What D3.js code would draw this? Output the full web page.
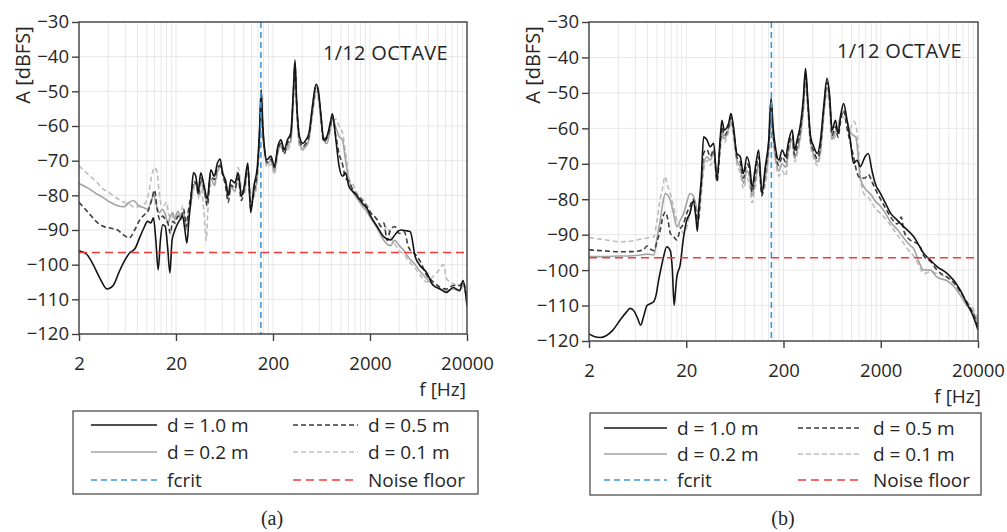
<!DOCTYPE html>
<html>
<head>
<meta charset="utf-8">
<script src="https://cdn.jsdelivr.net/npm/d3@7"></script>
<style>
  html, body { margin: 0; padding: 0; background: #fff; }
  svg { display: block; }
  text { font-family: "Open Sans", "Noto Sans", sans-serif; fill: #262626; }
</style>
</head>
<body>
<svg id="chart" width="1007" height="532"></svg>
<script>
// ---- data -------------------------------------------------------------
const xTicks = [2, 20, 200, 2000, 20000];
const yTicks = [-30, -40, -50, -60, -70, -80, -90, -100, -110, -120];
const fCrit = 150;        // Hz
const noiseFloor = -96.5; // dBFS
const seriesLabels = ["d = 1.0 m", "d = 0.5 m", "d = 0.2 m", "d = 0.1 m"];
const refLabels = ["fcrit", "Noise floor"];

// panel (a): [frequency Hz, level dBFS]
const a_d10 = [[2,-96],[2.4,-97],[2.8,-100],[3.3,-104],[3.9,-107],[4.5,-106],[5.2,-102],[6,-98.5],[6.7,-96.5],[7.5,-95.5],[8.5,-92],[9.3,-89.5],[10.2,-87.5],[11,-88],[11.7,-86.5],[12.4,-93],[13.1,-101.5],[13.8,-93],[14.6,-88.5],[15.5,-89],[16.4,-95],[17.3,-102.4],[18.2,-93],[19.2,-90.5],[20.5,-88.5],[22,-87],[23.4,-86],[24.7,-90],[25.9,-93.8],[27.2,-87],[28.5,-81],[30.3,-73.5],[32,-74.5],[33.8,-79],[36,-73.5],[38.8,-77],[42,-81],[45.7,-72.6],[49.5,-74.5],[53.5,-70.7],[57,-69.5],[60.3,-73.5],[65.3,-76],[69,-80],[73.6,-75.5],[81,-76.4],[87.5,-73.5],[94.5,-80.3],[101,-77.4],[110,-70.7],[118,-85],[127,-77.4],[138,-71.6],[146,-60],[151,-49.5],[157,-60],[163,-66],[173,-69.7],[190,-68.7],[207,-71.6],[224,-66],[241,-64],[261,-66.8],[282,-64],[305,-62],[324,-50],[337,-41],[350,-52.4],[375,-63],[405,-65],[437,-64],[470,-62],[510,-54.3],[555,-48],[585,-49.5],[625,-57],[665,-64],[720,-63],[780,-59],[820,-56.5],[890,-64],[960,-71.6],[1040,-74.5],[1120,-73.5],[1210,-77.4],[1340,-79],[1480,-80.3],[1660,-82.2],[1880,-84],[2030,-86],[2370,-89],[2780,-92],[3250,-92.9],[3700,-91],[4110,-90],[4700,-90.2],[5200,-90.5],[5850,-97.7],[6570,-100.3],[7670,-102.3],[9000,-106],[10520,-107],[12300,-108],[14400,-106.6],[16800,-107.5],[18200,-104.6],[20000,-112]];
const a_d05 = [[2,-82],[2.5,-85],[3,-87.5],[3.6,-89],[4.3,-89.5],[5,-90],[5.8,-91.5],[6.6,-92.3],[7.5,-90],[8.5,-87],[9.5,-85.5],[10.5,-84],[11.3,-81],[12,-78.5],[12.8,-84],[13.6,-87],[14.6,-86],[15.5,-87],[16.5,-88],[17.5,-91],[18.5,-87.5],[19.5,-88],[21,-86],[22.5,-86.5],[24,-84],[25.5,-89],[27,-84],[28.5,-80],[30.5,-76],[32.5,-77],[34,-80],[36,-75],[39,-78],[42,-83],[45.5,-74],[49.5,-75.5],[53.5,-72],[57,-71.5],[60.5,-74],[65,-77.5],[69,-82],[74,-77],[81,-78],[87.5,-75],[94.5,-81.5],[101,-78],[110,-72],[118,-84],[127,-79],[138,-73],[146,-61],[151,-51],[157,-61],[163,-66.5],[173,-70.5],[190,-69.5],[207,-72],[224,-67],[241,-65],[261,-68],[282,-65],[305,-63],[324,-51],[337,-42],[350,-53],[375,-63.5],[405,-66],[437,-65],[470,-63],[510,-55],[555,-48.5],[585,-50],[625,-57.5],[665,-64.5],[720,-63.5],[780,-60],[820,-57.5],[890,-63],[960,-68],[1040,-71],[1120,-75],[1210,-76],[1340,-78.5],[1480,-80],[1660,-81.5],[1880,-83.5],[2030,-85],[2370,-87],[2600,-89],[2780,-88],[3000,-93],[3250,-90],[3600,-89],[4000,-91],[4500,-90.5],[5000,-95],[5850,-97],[6570,-99],[7670,-103],[9000,-105],[10520,-106.5],[12300,-107],[14400,-106],[16800,-106],[18200,-105],[20000,-111]];
const a_d02 = [[2,-76.6],[2.5,-78],[3,-79.5],[3.5,-80.5],[4.2,-82],[5,-83],[5.8,-83.3],[6.6,-82],[7.3,-81.5],[8.2,-83],[9.2,-83.5],[10.2,-84],[11,-82],[11.8,-80],[12.6,-83],[13.5,-85],[14.5,-84],[15.5,-85.5],[16.5,-88],[17.5,-86],[18.5,-85],[19.5,-87],[21,-84.5],[22.5,-87],[24,-85],[25.5,-90],[27,-86],[28.5,-82],[30.5,-77],[32.5,-76],[34,-79.5],[36,-76],[39,-79],[42,-82],[45.5,-75],[49.5,-77],[53.5,-73],[57,-71],[60.5,-73],[65,-77],[69,-80.5],[74,-77.5],[81,-79],[87.5,-74],[94.5,-79],[101,-79],[110,-72],[118,-82],[127,-80],[138,-74],[146,-62],[151,-52],[157,-62],[163,-67],[173,-71],[190,-70],[207,-73],[224,-67.5],[241,-65.5],[261,-67],[282,-66],[305,-64],[324,-52],[337,-43],[350,-54],[375,-65],[405,-66.5],[437,-66],[470,-64],[510,-56],[555,-50],[585,-51],[625,-58],[665,-64],[720,-65],[780,-61],[820,-58],[890,-60.5],[960,-63],[1040,-64],[1120,-70],[1210,-75.5],[1340,-79],[1480,-81],[1660,-83],[1880,-85],[2030,-86.5],[2370,-89.5],[2780,-93],[3250,-94.5],[3600,-93],[4000,-94.5],[4500,-96],[5000,-98],[5850,-100],[6570,-102],[7670,-104],[9000,-106],[10520,-107],[12300,-107.5],[14400,-107],[16800,-107.5],[18200,-106],[20000,-110]];
const a_d01 = [[2,-71.5],[2.5,-74],[3,-76],[3.5,-78],[4.2,-79.5],[5,-81],[5.8,-82],[6.6,-82.5],[7.5,-83.5],[8.5,-83],[9.5,-82.5],[10.5,-79],[11.3,-74],[12,-72],[12.7,-73],[13.4,-79],[14.2,-83],[15,-83],[16,-82],[17,-86],[18,-85],[19,-88],[20.5,-85],[22,-86],[23.5,-83],[25,-88],[26.5,-85],[28.5,-83],[30.5,-78],[32.5,-77],[34.5,-81],[36.5,-78],[38.5,-84],[40,-90],[41,-93],[42.5,-85],[45.5,-77],[49.5,-77.5],[53.5,-74],[57,-72],[60.5,-73.5],[65,-76],[69,-79],[74,-78],[81,-77],[87.5,-72],[94.5,-78],[101,-80],[110,-73],[118,-80],[127,-80.5],[138,-75],[146,-63],[151,-54],[157,-63],[163,-67],[173,-72],[190,-71],[207,-74],[224,-68],[241,-66],[261,-68],[282,-67],[305,-65],[324,-54],[337,-45],[350,-55],[375,-66],[405,-67],[437,-65.5],[470,-63],[510,-57],[555,-51],[585,-52],[625,-58.5],[665,-63],[720,-64],[780,-60],[820,-59],[890,-58],[960,-60],[1040,-62],[1100,-66],[1150,-70],[1210,-75],[1340,-77],[1480,-79.5],[1660,-81],[1880,-83],[2030,-85],[2370,-87],[2780,-90],[3000,-89],[3250,-92],[3600,-94],[4000,-96],[4500,-97],[5000,-99],[5850,-101],[6570,-103],[7670,-105],[8500,-104],[10000,-102],[11400,-100],[12300,-104],[14400,-105.5],[16800,-106],[18200,-105],[20000,-109]];

// panel (b): [frequency Hz, level dBFS]
const b_d10 = [[2,-118],[2.3,-118.8],[2.6,-119],[3,-118.5],[3.5,-117],[4.2,-114],[4.8,-112],[5.3,-110.8],[5.8,-111.5],[6.3,-113.5],[6.8,-115.5],[7.3,-113],[7.9,-110],[8.5,-109.5],[9.2,-109],[9.8,-107],[10.4,-102.8],[11.1,-99],[11.7,-96.2],[12.6,-93.4],[13.7,-94.5],[14.4,-100],[15,-109.9],[15.5,-106],[16,-101.9],[17.3,-98.6],[18.8,-90.6],[20.2,-86],[21.8,-84],[23.6,-80.5],[25.3,-86],[26,-89],[27,-82],[28.5,-74.6],[30.2,-62.4],[32.7,-63.3],[35.3,-65.2],[38.3,-64.2],[41.4,-74.6],[44.8,-62.4],[46.5,-57.7],[49.2,-60.5],[54.6,-58.6],[57.6,-55.8],[61.2,-59.5],[66.2,-67.1],[71.8,-68],[77.6,-72.7],[84,-68],[90,-70.8],[95,-76.5],[103,-70.8],[111,-66.1],[120,-78.4],[130,-70.8],[141,-63.3],[149,-51.5],[156,-59.5],[165,-65.2],[179,-69],[194,-66.1],[210,-68],[227,-63.3],[246,-60.5],[260,-66.1],[276,-63.3],[300,-58.6],[319,-52],[337,-43.1],[356,-52],[380,-62.4],[410,-65.2],[444,-67.1],[480,-63.3],[518,-53.9],[561,-45.9],[597,-51],[632,-60.5],[684,-57.7],[727,-61.4],[781,-55.8],[830,-53],[900,-57.7],[972,-63.3],[1050,-69.9],[1140,-69],[1230,-70.8],[1380,-68],[1490,-67.1],[1620,-71.8],[1750,-75.5],[1990,-78.4],[2240,-81.2],[2530,-84],[2950,-85.9],[3460,-87.8],[4370,-90.6],[5540,-95.3],[6480,-97.2],[7580,-99],[9600,-100.9],[11200,-102.8],[13100,-105.6],[15340,-109.4],[17970,-113.2],[20000,-116.9]];
const b_d05 = [[2,-94.3],[3,-94.6],[4,-94.8],[5,-94.8],[6.5,-94.6],[7.3,-94.2],[7.9,-93.2],[8.5,-94],[9.3,-94.5],[10,-92],[10.8,-88.7],[11.5,-85],[12.2,-83.6],[13,-86],[13.7,-89.6],[14.8,-90.5],[16,-91.5],[17.3,-88.5],[18.8,-86.8],[20.2,-84],[21.8,-82],[23.6,-80],[25.3,-84],[26.5,-86],[28.5,-76],[30.2,-67],[32.7,-66],[35.3,-68],[38.3,-66],[41.4,-75],[44.8,-64],[46.5,-59.5],[49.2,-62],[54.6,-59.5],[57.6,-57],[61.2,-60.5],[66.2,-68],[71.8,-69.5],[77.6,-74],[84,-70],[90,-72],[95,-78],[103,-72.5],[111,-68],[120,-79],[130,-72],[141,-64.5],[149,-53],[156,-61],[165,-66.5],[179,-70.5],[194,-68],[210,-69.5],[227,-64.5],[246,-62],[260,-67.5],[276,-65],[300,-60],[319,-53.5],[337,-44.5],[356,-53],[380,-63.5],[410,-66.5],[444,-68.5],[480,-65],[518,-55],[561,-47],[597,-52],[632,-62],[684,-59.5],[727,-62.5],[781,-57],[830,-55],[900,-60],[972,-64],[1050,-68],[1140,-72.5],[1230,-74],[1380,-74],[1490,-73],[1620,-75],[1750,-77],[1990,-80],[2240,-82.5],[2530,-85],[2950,-87],[3250,-85],[3460,-89],[4000,-91.5],[4370,-92],[5000,-93],[5540,-96],[6480,-97.5],[7580,-100],[9600,-102],[11200,-103.5],[13100,-106],[15340,-109],[17970,-112.5],[20000,-116]];
const b_d02 = [[2,-96.2],[3,-96.2],[4,-96],[5,-96],[6.5,-95.8],[8,-95.5],[9.3,-95.7],[10,-91],[10.8,-86],[11.5,-81],[12.2,-78.4],[13,-79],[13.7,-80.3],[14.8,-84],[16,-87.8],[17.3,-86],[18.8,-84],[20.2,-81],[21.8,-78.4],[23.6,-79],[25.3,-82],[26.5,-84],[28.5,-77],[30.2,-70],[32.7,-68],[35.3,-69],[38.3,-67],[41.4,-72],[44.8,-65],[46.5,-60.5],[49.2,-63],[54.6,-60],[57.6,-58],[61.2,-61],[66.2,-69],[71.8,-71],[77.6,-75.5],[84,-72],[90,-74],[95,-79],[103,-74.5],[111,-70],[120,-77],[130,-74],[141,-66],[149,-55],[156,-62],[165,-68],[179,-72],[194,-70],[210,-71],[227,-66],[246,-63],[260,-68.5],[276,-66.5],[300,-61.5],[319,-55],[337,-46],[356,-54],[380,-64],[410,-67.5],[444,-69.5],[480,-66.5],[518,-56],[561,-48.5],[597,-53],[632,-63],[684,-61],[727,-60],[781,-56],[830,-55.5],[900,-58],[972,-61],[1050,-62],[1110,-62.5],[1180,-69],[1230,-74],[1380,-77],[1490,-78],[1620,-79],[1750,-80.5],[1990,-82],[2240,-84],[2530,-86.5],[2950,-88.5],[3460,-91],[4000,-93],[4370,-94],[5000,-98],[5540,-100],[6480,-100],[7580,-102],[9600,-103],[11200,-104.5],[13100,-107],[15340,-110],[17970,-112],[20000,-115]];
const b_d01 = [[2,-90.8],[3,-91.5],[4.2,-92],[5.5,-91.8],[7,-91.2],[8.5,-90.8],[9.3,-90.6],[10,-86],[10.8,-80],[11.3,-77.5],[12.1,-73.6],[12.8,-76],[13.7,-78.4],[14.8,-82],[16,-85.9],[17.3,-88],[18.8,-89.6],[20.2,-88],[21.8,-84],[23.6,-80],[25.3,-82],[26.5,-86],[28.5,-79],[30.2,-72],[32.7,-69],[35.3,-70.5],[38.3,-69],[41.4,-73],[44.8,-66],[46.5,-61.5],[49.2,-64],[54.6,-61],[57.6,-59],[61.2,-62.5],[66.2,-70],[71.8,-72.5],[77.6,-77],[84,-74],[90,-76.5],[95,-81],[103,-76],[111,-71.5],[120,-78],[130,-76],[141,-67],[149,-56],[156,-63],[165,-69],[179,-73.5],[194,-72],[210,-73.5],[227,-67],[246,-64.5],[260,-69.5],[276,-67.5],[300,-62.5],[319,-56],[337,-47.5],[356,-55],[380,-65],[410,-68.5],[444,-70.5],[480,-67],[518,-57],[561,-50],[597,-54.5],[632,-63.5],[684,-62],[727,-59],[781,-56.5],[830,-57],[900,-58],[972,-60],[1050,-58],[1110,-59],[1180,-66],[1250,-75],[1380,-79],[1490,-79.5],[1620,-81],[1750,-82.5],[1990,-84],[2240,-85.5],[2530,-87.5],[2950,-90],[3460,-92.5],[4000,-95],[4370,-96],[5000,-99],[5540,-101],[6480,-100.5],[7580,-101],[9600,-102],[11200,-103],[13100,-106],[15340,-109],[17970,-111],[20000,-114]];

// ---- styles -----------------------------------------------------------
const seriesStyle = [
  { color: "#141414", dash: null,  width: 1.6 },
  { color: "#3c3c3c", dash: "5,3", width: 1.6 },
  { color: "#a3a3a3", dash: null,  width: 1.6 },
  { color: "#bdbdbd", dash: "5,3", width: 1.6 }
];
const critStyle  = { color: "#3f98d6", dash: "6,4", width: 1.6 };
const noiseStyle = { color: "#f23a3a", dash: "8,5", width: 1.6 };

const panels = [
  { series: [a_d10, a_d05, a_d02, a_d01], box: { l: 79, r: 467, t: 22, b: 334 },
    yTitleX: 30, octave: { x: 448, y: 60 }, fLabel: { x: 466, y: 396 }, xLabY: 370,
    legend: { l: 73, r: 478, t: 411, b: 494, rows: [425, 452, 480], c1: [91, 157, 167], c2: [293, 358, 368] },
    caption: { x: 272, y: 525, text: "(a)" } },
  { series: [b_d10, b_d05, b_d02, b_d01], box: { l: 589, r: 978, t: 22, b: 341 },
    yTitleX: 540, octave: { x: 962, y: 58 }, fLabel: { x: 981, y: 403 }, xLabY: 377,
    legend: { l: 590, r: 981, t: 413, b: 495, rows: [428, 454, 480], c1: [604, 667, 677], c2: [798, 862, 873] },
    caption: { x: 783, y: 525, text: "(b)" } }
];

const svg = d3.select("#chart");

panels.forEach((p, pi) => {
  const B = p.box;
  const x = d3.scaleLog().domain([2, 20000]).range([B.l, B.r]);
  const y = d3.scaleLinear().domain([-120, -30]).range([B.b, B.t]);
  const g = svg.append("g");

  const clipId = "clip" + pi;
  svg.append("clipPath").attr("id", clipId)
    .append("rect").attr("x", B.l).attr("y", B.t).attr("width", B.r - B.l).attr("height", B.b - B.t);

  // grid: multiples of each decade start (2, 4, 6, ... 18, 20, 40, ...)
  const gridX = [];
  xTicks.slice(0, -1).forEach(d => { for (let k = 1; k < 10; k++) gridX.push(d * k); });
  g.append("g").selectAll("line").data(gridX).join("line")
    .attr("x1", d => x(d)).attr("x2", d => x(d))
    .attr("y1", B.t).attr("y2", B.b)
    .attr("stroke", "#e8e8e8").attr("stroke-width", 1);
  g.append("g").selectAll("line").data(yTicks).join("line")
    .attr("x1", B.l).attr("x2", B.r)
    .attr("y1", d => y(d)).attr("y2", d => y(d))
    .attr("stroke", "#e8e8e8").attr("stroke-width", 1);

  // axes
  const yAxis = d3.axisLeft(y).tickValues(yTicks).tickSize(7).tickPadding(3).tickFormat(d3.format("d"));
  const gy = g.append("g").attr("transform", `translate(${B.l},0)`).call(yAxis);
  const xAxis = d3.axisBottom(x).tickValues(xTicks).tickSize(7).tickPadding(0).tickFormat(d3.format("d"));
  const gx = g.append("g").attr("transform", `translate(0,${B.b})`).call(xAxis);
  [gx, gy].forEach(ax => {
    ax.select(".domain").remove();
    ax.selectAll(".tick line").attr("stroke", "#404040").attr("stroke-width", 1.4);
    ax.selectAll(".tick text").attr("fill", "#262626").style("font-size", "18.5px")
      .style("font-family", '"Open Sans", sans-serif');
  });
  gx.selectAll(".tick text").attr("dy", null).attr("y", p.xLabY - B.b);

  // curves
  const line = d3.line().x(d => x(d[0])).y(d => y(d[1])).curve(d3.curveMonotoneX);
  const order = [3, 2, 1, 0];
  const lines = g.append("g").attr("clip-path", `url(#${clipId})`);
  order.forEach(i => {
    const s = seriesStyle[i];
    lines.append("path").datum(p.series[i])
      .attr("d", line).attr("fill", "none")
      .attr("stroke", s.color).attr("stroke-width", s.width)
      .attr("stroke-dasharray", s.dash)
      .attr("stroke-linejoin", "round");
  });

  // reference lines
  lines.append("line")
    .attr("x1", x(fCrit)).attr("x2", x(fCrit)).attr("y1", B.t).attr("y2", B.b)
    .attr("stroke", critStyle.color).attr("stroke-width", critStyle.width)
    .attr("stroke-dasharray", critStyle.dash);
  lines.append("line")
    .attr("x1", B.l).attr("x2", B.r).attr("y1", y(noiseFloor)).attr("y2", y(noiseFloor))
    .attr("stroke", noiseStyle.color).attr("stroke-width", noiseStyle.width)
    .attr("stroke-dasharray", noiseStyle.dash);

  // frame
  g.append("rect").attr("x", B.l).attr("y", B.t).attr("width", B.r - B.l).attr("height", B.b - B.t)
    .attr("fill", "none").attr("stroke", "#404040").attr("stroke-width", 1.4);

  // titles
  g.append("text").attr("transform", `translate(${p.yTitleX},${B.t + 43}) rotate(-90)`)
    .attr("text-anchor", "middle").style("font-size", "20px").text("A [dBFS]");
  g.append("text").attr("x", p.octave.x).attr("y", p.octave.y).attr("text-anchor", "end")
    .style("font-size", "20px").style("letter-spacing", "0.3px").text("1/12 OCTAVE");
  g.append("text").attr("x", p.fLabel.x).attr("y", p.fLabel.y).attr("text-anchor", "end")
    .style("font-size", "19px").text("f [Hz]");

  // legend
  const L = p.legend;
  g.append("rect").attr("x", L.l).attr("y", L.t).attr("width", L.r - L.l).attr("height", L.b - L.t)
    .attr("fill", "#fff").attr("stroke", "#404040").attr("stroke-width", 1.2);
  const entries = [
    { label: seriesLabels[0], st: seriesStyle[0], col: L.c1, row: 0 },
    { label: seriesLabels[1], st: seriesStyle[1], col: L.c2, row: 0 },
    { label: seriesLabels[2], st: seriesStyle[2], col: L.c1, row: 1 },
    { label: seriesLabels[3], st: seriesStyle[3], col: L.c2, row: 1 },
    { label: refLabels[0], st: critStyle, col: L.c1, row: 2 },
    { label: refLabels[1], st: noiseStyle, col: L.c2, row: 2 }
  ];
  entries.forEach(e => {
    const yy = L.rows[e.row];
    g.append("line").attr("x1", e.col[0]).attr("x2", e.col[1]).attr("y1", yy).attr("y2", yy)
      .attr("stroke", e.st.color).attr("stroke-width", 1.5).attr("stroke-dasharray", e.st.dash);
    g.append("text").attr("x", e.col[2]).attr("y", yy + 6.5).style("font-size", "19px").text(e.label);
  });

  // caption
  g.append("text").attr("x", p.caption.x).attr("y", p.caption.y).attr("text-anchor", "middle")
    .style("font-family", '"Liberation Serif", "DejaVu Serif", serif').style("font-size", "20px")
    .text(p.caption.text);
});
</script>
</body>
</html>
